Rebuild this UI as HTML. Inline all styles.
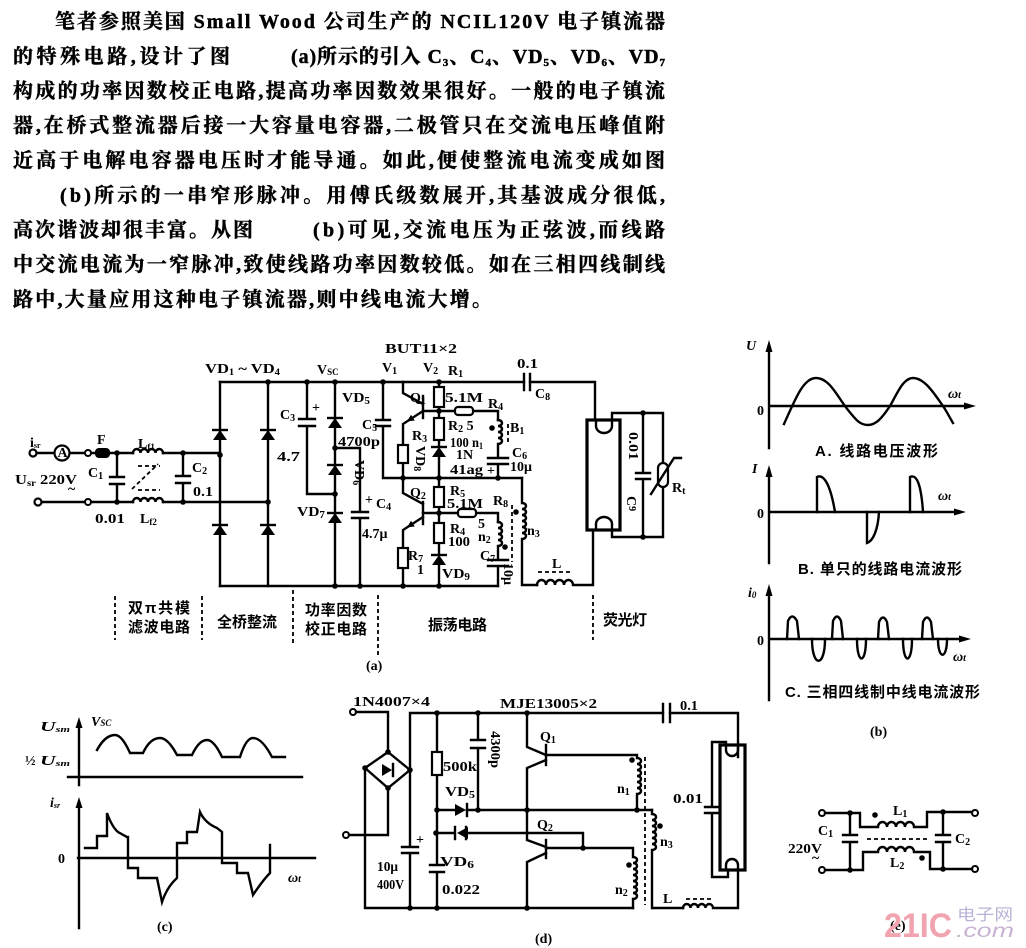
<!DOCTYPE html>
<html><head><meta charset="utf-8">
<style>
html,body{margin:0;padding:0;background:#fff;}
body{width:1026px;height:948px;overflow:hidden;}
svg{display:block;}
.w{fill:none;stroke:#000;stroke-width:2.4;stroke-linecap:square;stroke-linejoin:miter}
.d{fill:none;stroke:#000;stroke-width:1.8;stroke-dasharray:4 3}
.t{font-family:"Liberation Serif","Noto Serif CJK SC",serif;font-weight:bold;font-size:14px;fill:#000}
.cn{font-family:"Liberation Sans","Noto Sans CJK SC",sans-serif;font-weight:bold;font-size:15px;fill:#000}
.bd{font-family:"Liberation Serif","Noto Serif CJK SC",serif;font-weight:bold;font-size:20px;fill:#000;stroke:#000;stroke-width:0.45}
.r{fill:#fff;stroke:#000;stroke-width:2.2}
</style></head>
<body>
<svg width="1026" height="948" viewBox="0 0 1026 948" xmlns="http://www.w3.org/2000/svg">
<defs>
<g id="du"><polygon points="-7,5 7,5 0,-5" fill="#000"/><line x1="-8" y1="-5" x2="8" y2="-5" stroke="#000" stroke-width="2.4"/></g>
<circle id="dt" r="2.8" fill="#000"/>
</defs>

<!-- ===== paragraph ===== -->
<text class="bd" x="55" y="28" textLength="610" lengthAdjust="spacing">笔者参照美国 Small Wood 公司生产的 NCIL120V 电子镇流器</text>
<text class="bd" x="13" y="63" textLength="217" lengthAdjust="spacing">的特殊电路,设计了图</text>
<text class="bd" x="291" y="63" textLength="374" lengthAdjust="spacing">(a)所示的引入 C<tspan font-size="11" dy="3">3</tspan><tspan dy="-3">、C</tspan><tspan font-size="11" dy="3">4</tspan><tspan dy="-3">、VD</tspan><tspan font-size="11" dy="3">5</tspan><tspan dy="-3">、VD</tspan><tspan font-size="11" dy="3">6</tspan><tspan dy="-3">、VD</tspan><tspan font-size="11" dy="3">7</tspan></text>
<text class="bd" x="13" y="97.5" textLength="652" lengthAdjust="spacing">构成的功率因数校正电路,提高功率因数效果很好。一般的电子镇流</text>
<text class="bd" x="13" y="132" textLength="652" lengthAdjust="spacing">器,在桥式整流器后接一大容量电容器,二极管只在交流电压峰值附</text>
<text class="bd" x="13" y="167" textLength="652" lengthAdjust="spacing">近高于电解电容器电压时才能导通。如此,便使整流电流变成如图</text>
<text class="bd" x="60" y="202" textLength="605" lengthAdjust="spacing">(b)所示的一串窄形脉冲。用傅氏级数展开,其基波成分很低,</text>
<text class="bd" x="13" y="236.5" textLength="240" lengthAdjust="spacing">高次谐波却很丰富。从图</text>
<text class="bd" x="313" y="236.5" textLength="352" lengthAdjust="spacing">(b)可见,交流电压为正弦波,而线路</text>
<text class="bd" x="13" y="271" textLength="652" lengthAdjust="spacing">中交流电流为一窄脉冲,致使线路功率因数较低。如在三相四线制线</text>
<text class="bd" x="13" y="306" textLength="479" lengthAdjust="spacing">路中,大量应用这种电子镇流器,则中线电流大增。</text>

<!-- ===== circuit (a) ===== -->
<path class="w" d="M220,382H524M530,382H595V420"/>
<path class="w" d="M524,374V390M530,374V390" stroke-width="2.6"/>
<path class="w" d="M220,586H498"/>
<path class="w" d="M220,382V586M268,382V586"/>
<!-- input -->
<circle cx="33" cy="453" r="3.5" fill="#fff" stroke="#000" stroke-width="2.2"/>
<path class="w" d="M37,453H55M69,453H85M91,453H95M110,453H133M163,453H220"/>
<circle cx="62" cy="453" r="7.5" fill="#fff" stroke="#000" stroke-width="2.2"/>
<text class="t" x="57.5" y="457" font-size="11">A</text>
<circle cx="88" cy="453" r="3" fill="#fff" stroke="#000" stroke-width="2"/>
<rect x="95" y="448" width="15" height="10" rx="4" fill="#000"/>
<path class="w" d="M133,453a3.75,4 0 0 1 7.5,0a3.75,4 0 0 1 7.5,0a3.75,4 0 0 1 7.5,0a3.75,4 0 0 1 7.5,0"/>
<circle cx="38" cy="502" r="3.5" fill="#fff" stroke="#000" stroke-width="2.2"/>
<path class="w" d="M42,502H85M91,502H133M163,502H268"/>
<circle cx="88" cy="502" r="3" fill="#fff" stroke="#000" stroke-width="2"/>
<path class="w" d="M133,502a3.75,4 0 0 1 7.5,0a3.75,4 0 0 1 7.5,0a3.75,4 0 0 1 7.5,0a3.75,4 0 0 1 7.5,0"/>
<path class="d" d="M138,466H160M138,490H160M132,489L158,464"/>
<path class="w" d="M117,453V477M110,477H124M110,484H124M117,484V502"/>
<path class="w" d="M183,453V476M176,476H190M176,483H190M183,483V502"/>
<use href="#dt" x="117" y="453"/><use href="#dt" x="183" y="453"/><use href="#dt" x="220" y="455"/>
<use href="#dt" x="117" y="502"/><use href="#dt" x="183" y="502"/><use href="#dt" x="268" y="502"/>
<use href="#dt" x="268" y="382"/>
<use href="#du" x="220" y="435"/><use href="#du" x="268" y="435"/>
<use href="#du" x="220" y="530"/><use href="#du" x="268" y="530"/>
<!-- PFC -->
<path class="w" d="M307,382V419M299,419H315M299,426H315M307,426V494H335"/>
<path class="w" d="M335,382V586"/>
<use href="#du" x="335" y="423"/><use href="#du" x="335" y="470"/><use href="#du" x="335" y="518"/>
<path class="w" d="M335,448H360V512M352,512H368M352,518H368M360,518V586"/>
<path class="w" d="M383,382V420M376,420H390M376,426H390M383,426V478H522"/>
<use href="#dt" x="307" y="382"/><use href="#dt" x="335" y="382"/><use href="#dt" x="335" y="448"/>
<use href="#dt" x="335" y="494"/><use href="#dt" x="335" y="586"/><use href="#dt" x="360" y="586"/>
<use href="#dt" x="383" y="382"/>
<!-- Q1 -->
<path class="w" d="M403,382V393L423,404"/>
<path class="w" d="M423,396V418" stroke-width="3.2"/>
<path class="w" d="M423,411L403,424V445M403,463V478"/>
<polygon points="407,421.4 414.8,420.5 411,414.7" fill="#000"/>
<rect class="r" x="398" y="445" width="10" height="18"/>
<path class="w" d="M423,411H455M473,411H498V420"/>
<rect class="r" x="455" y="407" width="18" height="8" rx="3"/>
<path class="w" d="M498,420a4,3 0 0 1 0,6a4,3 0 0 1 0,6a4,3 0 0 1 0,6a4,3 0 0 1 0,6V458M488,458H508M488,464H508M498,464V478"/>
<path class="d" d="M508,424V444"/>
<path class="w" d="M439,382V387M439,407V418M439,440V446M439,457V478"/>
<rect class="r" x="434" y="387" width="10" height="20"/>
<rect class="r" x="434" y="418" width="10" height="22"/>
<use href="#du" x="439" y="452"/>
<!-- Q2 -->
<path class="w" d="M403,478V493L423,504"/>
<path class="w" d="M423,502V524" stroke-width="3.2"/>
<path class="w" d="M423,517L403,530V548M403,568V586"/>
<polygon points="407,527.4 414.8,526.5 411,520.7" fill="#000"/>
<rect class="r" x="398" y="548" width="10" height="20"/>
<path class="w" d="M423,513H458M476,513H498V522"/>
<rect class="r" x="458" y="509" width="18" height="8" rx="3"/>
<path class="w" d="M498,522a4,3 0 0 1 0,6a4,3 0 0 1 0,6a4,3 0 0 1 0,6a4,3 0 0 1 0,6V560M488,560H508M488,566H508M498,566V586"/>
<path class="w" d="M439,478V487M439,507V523M439,543V554M439,565V586"/>
<rect class="r" x="434" y="487" width="10" height="20"/>
<rect class="r" x="434" y="523" width="10" height="20"/>
<use href="#du" x="439" y="560"/>
<path class="w" d="M522,478V503a4,3 0 0 1 0,6a4,3 0 0 1 0,6a4,3 0 0 1 0,6a4,3 0 0 1 0,6a4,3 0 0 1 0,6a4,3 0 0 1 0,6V585H537"/>
<path class="w" d="M537,585a4.5,5 0 0 1 9,0a4.5,5 0 0 1 9,0a4.5,5 0 0 1 9,0a4.5,5 0 0 1 9,0H593V530"/>
<path class="d" d="M538,572H573" stroke-dasharray="5 4"/>
<path class="d" d="M512,505V562"/>
<use href="#dt" x="403" y="478"/><use href="#dt" x="439" y="478"/><use href="#dt" x="498" y="478"/>
<use href="#dt" x="439" y="382"/><use href="#dt" x="439" y="411"/><use href="#dt" x="439" y="513"/>
<use href="#dt" x="403" y="586"/><use href="#dt" x="439" y="586"/>
<use href="#dt" x="492" y="428"/><use href="#dt" x="505" y="547"/><use href="#dt" x="516" y="512"/>
<!-- lamp a -->
<rect x="587" y="420" width="33" height="110" fill="none" stroke="#000" stroke-width="3.2"/>
<path class="w" d="M596,420V426a8,7 0 0 0 16,0V420M596,530V524a8,7 0 0 1 16,0V530"/>
<path class="w" d="M612,420V413H663M643,413V473M636,473H650M636,479H650M643,479V537M663,413V463M663,487V537H612V530"/>
<rect class="r" x="658" y="463" width="10" height="24" rx="5"/>
<path class="w" d="M651,494L674,458H681"/>
<use href="#dt" x="643" y="413"/><use href="#dt" x="643" y="537"/>
<!-- dividers -->
<path class="d" d="M115,596V640M202,596V640M293,590V645M378,595V655M593,595V640" stroke-dasharray="6 4"/>
<!-- labels a -->
<text class="t" x="30" y="447">i<tspan font-size="8" dy="1">sr</tspan></text>
<text class="t" x="97" y="444">F</text>
<text class="t" x="138" y="448">L<tspan font-size="9" dy="2">f1</tspan></text>
<text class="t" x="88" y="477">C<tspan font-size="10" dy="2">1</tspan></text>
<text class="t" x="15" y="484" textLength="62" lengthAdjust="spacingAndGlyphs">U<tspan font-size="9" dy="2">sr</tspan><tspan dy="-2"> 220V</tspan></text>
<text class="t" x="68" y="493">~</text>
<text class="t" x="95" y="523" textLength="30" lengthAdjust="spacingAndGlyphs">0.01</text>
<text class="t" x="140" y="523">L<tspan font-size="9" dy="2">f2</tspan></text>
<text class="t" x="192" y="472">C<tspan font-size="10" dy="2">2</tspan></text>
<text class="t" x="193" y="496" textLength="20" lengthAdjust="spacingAndGlyphs">0.1</text>
<text class="t" x="205" y="373" textLength="75" lengthAdjust="spacingAndGlyphs">VD<tspan font-size="9" dy="2">1</tspan><tspan dy="-2"> ~ VD</tspan><tspan font-size="9" dy="2">4</tspan></text>
<text class="t" x="317" y="374">V<tspan font-size="9" dy="1">SC</tspan></text>
<text class="t" x="280" y="419">C<tspan font-size="10" dy="2">3</tspan></text>
<text class="t" x="312" y="412">+</text>
<text class="t" x="277" y="461" textLength="23" lengthAdjust="spacingAndGlyphs">4.7</text>
<text class="t" x="342" y="402" textLength="28" lengthAdjust="spacingAndGlyphs">VD<tspan font-size="10" dy="2">5</tspan></text>
<text class="t" x="362" y="429">C<tspan font-size="10" dy="2">5</tspan></text>
<text class="t" x="338" y="446" textLength="42" lengthAdjust="spacingAndGlyphs">4700p</text>
<text class="t" transform="translate(355,460) rotate(90)">VD<tspan font-size="10" dy="2">6</tspan></text>
<text class="t" x="297" y="516" textLength="28" lengthAdjust="spacingAndGlyphs">VD<tspan font-size="10" dy="2">7</tspan></text>
<text class="t" x="365" y="504">+</text>
<text class="t" x="376" y="508">C<tspan font-size="10" dy="2">4</tspan></text>
<text class="t" x="362" y="538">4.7μ</text>
<text class="t" x="385" y="353" textLength="72" lengthAdjust="spacingAndGlyphs">BUT11×2</text>
<text class="t" x="382" y="372">V<tspan font-size="10" dy="2">1</tspan></text>
<text class="t" x="423" y="372">V<tspan font-size="10" dy="2">2</tspan></text>
<text class="t" x="448" y="375">R<tspan font-size="10" dy="2">1</tspan></text>
<text class="t" x="517" y="368" textLength="21" lengthAdjust="spacingAndGlyphs">0.1</text>
<text class="t" x="535" y="398">C<tspan font-size="10" dy="2">8</tspan></text>
<text class="t" x="410" y="402">Q<tspan font-size="10" dy="2">1</tspan></text>
<text class="t" x="445" y="402" textLength="38" lengthAdjust="spacingAndGlyphs">5.1M</text>
<text class="t" x="488" y="408">R<tspan font-size="10" dy="2">4</tspan></text>
<text class="t" x="448" y="430">R<tspan font-size="10" dy="2">2</tspan><tspan dy="-2"> 5</tspan></text>
<text class="t" x="510" y="432">B<tspan font-size="10" dy="2">1</tspan></text>
<text class="t" x="450" y="447" textLength="33" lengthAdjust="spacingAndGlyphs">100 n<tspan font-size="9" dy="2">1</tspan></text>
<text class="t" x="512" y="457">C<tspan font-size="10" dy="2">6</tspan></text>
<text class="t" x="510" y="471">10μ</text>
<text class="t" x="487" y="475">+</text>
<text class="t" x="412" y="440">R<tspan font-size="10" dy="2">3</tspan></text>
<text class="t" transform="translate(416,446) rotate(90)">VD<tspan font-size="10" dy="2">8</tspan></text>
<text class="t" x="456" y="459">1N</text>
<text class="t" x="450" y="474" textLength="33" lengthAdjust="spacingAndGlyphs">41ag</text>
<text class="t" x="410" y="497">Q<tspan font-size="10" dy="2">2</tspan></text>
<text class="t" x="450" y="495">R<tspan font-size="10" dy="2">5</tspan></text>
<text class="t" x="447" y="508" textLength="36" lengthAdjust="spacingAndGlyphs">5.1M</text>
<text class="t" x="493" y="505">R<tspan font-size="10" dy="2">8</tspan></text>
<text class="t" x="450" y="533">R<tspan font-size="10" dy="2">4</tspan></text>
<text class="t" x="448" y="546" textLength="22" lengthAdjust="spacingAndGlyphs">100</text>
<text class="t" x="478" y="528">5</text>
<text class="t" x="478" y="541">n<tspan font-size="10" dy="2">2</tspan></text>
<text class="t" x="480" y="560">C<tspan font-size="10" dy="2">7</tspan></text>
<text class="t" transform="translate(504,563) rotate(90)">10μ</text>
<text class="t" x="408" y="560">R<tspan font-size="10" dy="2">7</tspan></text>
<text class="t" x="417" y="574">1</text>
<text class="t" x="442" y="578" textLength="28" lengthAdjust="spacingAndGlyphs">VD<tspan font-size="10" dy="2">9</tspan></text>
<text class="t" x="527" y="535">n<tspan font-size="10" dy="2">3</tspan></text>
<text class="t" x="552" y="568">L</text>
<text class="t" transform="translate(629,432) rotate(90)" textLength="28" lengthAdjust="spacingAndGlyphs">0.01</text>
<text class="t" transform="translate(627,496) rotate(90)">C<tspan font-size="10" dy="-2">9</tspan></text>
<text class="t" x="672" y="492">R<tspan font-size="10" dy="2">t</tspan></text>
<text class="cn" x="128" y="613" textLength="62">双π共模</text>
<text class="cn" x="128" y="632" textLength="62">滤波电路</text>
<text class="cn" x="217" y="627" textLength="60">全桥整流</text>
<text class="cn" x="305" y="615" textLength="62">功率因数</text>
<text class="cn" x="305" y="634" textLength="62">校正电路</text>
<text class="cn" x="428" y="630" textLength="59">振荡电路</text>
<text class="cn" x="603" y="625" textLength="44">荧光灯</text>
<text class="t" x="366" y="670" font-size="11">(a)</text>

<!-- ===== waveforms (b) ===== -->
<path class="w" d="M769,448V346M769,406H968"/>
<polygon points="765.5,352 772.5,352 769,340" fill="#000"/>
<polygon points="964,402.5 964,409.5 976,406" fill="#000"/>
<path class="w" d="M784,424C795,400 803,378 816,378C830,378 838,398 848,410C856,420 860,425 868,425C876,425 882,418 890,406C897,394 903,378 913,378C925,378 935,395 943,406C947,412 950,418 953,423" stroke-width="2.6"/>
<text class="t" x="746" y="350" font-style="italic">U</text>
<text class="t" x="757" y="415">0</text>
<text class="t" x="948" y="398" font-style="italic">ω<tspan font-size="10">t</tspan></text>
<text class="cn" x="815" y="456" font-size="13" textLength="123">A. 线路电压波形</text>

<path class="w" d="M769,563V470M769,512H958"/>
<polygon points="765.5,477 772.5,477 769,465" fill="#000"/>
<polygon points="954,508.5 954,515.5 966,512" fill="#000"/>
<path class="w" d="M817,512V477C823,474 830,482 835,512M867,512V543C873,541 878,530 879,512M910,512V477C916,474 921,482 923,512" stroke-width="2.6"/>
<text class="t" x="752" y="473" font-style="italic">I</text>
<text class="t" x="757" y="518">0</text>
<text class="t" x="938" y="500" font-style="italic">ω<tspan font-size="10">t</tspan></text>
<text class="cn" x="798" y="574" font-size="13" textLength="164">B. 单只的线路电流波形</text>

<path class="w" d="M769,700V590M769,639H963"/>
<polygon points="765.5,596 772.5,596 769,584" fill="#000"/>
<polygon points="959,635.5 959,642.5 971,639" fill="#000"/>
<path class="w" d="M787,639L788,621Q792,612 797,621L799,639M832,639L833,621Q837,612 841,621L843,639M878,639L879,622Q883,613 887,622L889,639M922,639L923,622Q927,613 931,622L933,639" stroke-width="2.6"/>
<path class="w" d="M812,639C812,668 825,668 825,639M857,639C857,665 866,665 866,639M903,639C903,665 912,665 912,639M938,639C938,660 947,660 947,639" stroke-width="2.6"/>
<text class="t" x="748" y="597" font-style="italic">i<tspan font-size="9" dy="1">0</tspan></text>
<text class="t" x="757" y="645">0</text>
<text class="t" x="953" y="661" font-style="italic">ω<tspan font-size="10">t</tspan></text>
<text class="cn" x="785" y="697" font-size="13" textLength="195">C. 三相四线制中线电流波形</text>
<text class="t" x="870" y="736" font-size="11">(b)</text>

<!-- ===== (c) ===== -->
<path class="w" d="M79,785V724M68,777H302"/>
<polygon points="75.5,728 82.5,728 79,717" fill="#000"/>
<path class="w" d="M97,750Q105,735 115,735Q122,735 130,753H143Q150,738 160,738Q168,738 177,755H192Q199,740 207,740Q214,740 222,757H240Q246,738 253,738Q262,738 272,757H285" stroke-width="2.6"/>
<text class="t" x="40" y="731" font-style="italic" textLength="30" lengthAdjust="spacingAndGlyphs">U<tspan font-size="8" dy="1">sm</tspan></text>
<text class="t" x="91" y="726" font-style="italic">V<tspan font-size="9">SC</tspan></text>
<text class="t" x="25" y="765" font-size="10">½</text>
<text class="t" x="40" y="765" font-style="italic" textLength="30" lengthAdjust="spacingAndGlyphs">U<tspan font-size="8" dy="1">sm</tspan></text>
<path class="w" d="M79,928V804M78,858H315"/>
<polygon points="75.5,808 82.5,808 79,797" fill="#000"/>
<path class="w" d="M85,848H97V836H107V813Q112,827 118,832L127,837H128V868H138V878H157L162,902Q167,887 177,878V843H187V832H197L200,812Q205,823 217,828L222,832V863H237V873H248L253,895Q263,880 270,873V845" stroke-width="2.6"/>
<text class="t" x="50" y="807" font-style="italic">i<tspan font-size="8" dy="1">sr</tspan></text>
<text class="t" x="58" y="863">0</text>
<text class="t" x="288" y="882" font-style="italic">ω<tspan font-size="10">t</tspan></text>
<text class="t" x="157" y="931" font-size="11">(c)</text>

<!-- ===== (d) ===== -->
<circle cx="353" cy="712" r="3" fill="#fff" stroke="#000" stroke-width="2"/>
<circle cx="346" cy="835" r="3" fill="#fff" stroke="#000" stroke-width="2"/>
<path class="w" d="M356,712H388V752M349,835H388V788"/>
<polygon points="388,752 410,770 388,788 365,768" fill="none" stroke="#000" stroke-width="2.4"/>
<polygon points="382,764 382,776 392,770" fill="#000"/>
<path class="w" d="M393,764V776"/>
<path class="w" d="M365,768V908H633M653,908H683"/>
<path class="w" d="M410,770V713H663M670,713H738V757"/>
<path class="w" d="M663,704V722M670,704V722" stroke-width="2.6"/>
<path class="w" d="M410,770V847M402,847H418M402,853H418M410,853V908"/>
<path class="w" d="M437,713V752M437,775V865M430,865H444M430,872H444M437,872V908"/>
<rect class="r" x="432" y="752" width="10" height="23"/>
<path class="w" d="M478,713V740M471,740H485M471,748H485M478,748V810"/>
<path class="w" d="M437,810H455M467,810H652"/>
<polygon points="455,804 455,816 466,810" fill="#000"/>
<path class="w" d="M467,804V816"/>
<path class="w" d="M436,833H453M468,833H583V848"/>
<polygon points="468,827 468,839 457,833" fill="#000"/>
<path class="w" d="M455,827V839M466,827V839" stroke-width="1.8"/>
<!-- Q1 d -->
<path class="w" d="M527,713V747L546,755"/>
<path class="w" d="M546,745V765" stroke-width="3.2"/>
<path class="w" d="M546,755H637V758a4,3 0 0 1 0,6a4,3 0 0 1 0,6a4,3 0 0 1 0,6a4,3 0 0 1 0,6a4,3 0 0 1 0,6a4,3 0 0 1 0,6V810"/>
<path class="w" d="M546,760L527,768V810"/>
<!-- Q2 d -->
<path class="w" d="M527,810V840L546,847"/>
<path class="w" d="M546,840V858" stroke-width="3.2"/>
<path class="w" d="M546,848H633V857a4,3 0 0 1 0,6a4,3 0 0 1 0,6a4,3 0 0 1 0,6a4,3 0 0 1 0,6a4,3 0 0 1 0,6a4,3 0 0 1 0,6a4,3 0 0 1 0,6V908"/>
<path class="w" d="M546,853L527,862V908"/>
<path class="w" d="M652,810V814a4,3 0 0 1 0,6a4,3 0 0 1 0,6a4,3 0 0 1 0,6a4,3 0 0 1 0,6a4,3 0 0 1 0,6a4,3 0 0 1 0,6V908"/>
<path class="w" d="M683,908a3.75,4 0 0 1 7.5,0a3.75,4 0 0 1 7.5,0a3.75,4 0 0 1 7.5,0a3.75,4 0 0 1 7.5,0H738V870"/>
<path class="d" d="M686,899H712" stroke-dasharray="5 3"/>
<path class="d" d="M645,757V905"/>
<!-- lamp d -->
<rect x="720" y="745" width="25" height="125" fill="none" stroke="#000" stroke-width="3.2"/>
<path class="w" d="M726,745V750a6,6 0 0 0 12,0V745M726,870V865a6,6 0 0 1 12,0V870"/>
<path class="w" d="M726,745V742H712V807M705,807H719M705,813H719M712,813V877H728V870"/>
<use href="#dt" x="388" y="752"/><use href="#dt" x="410" y="770"/><use href="#dt" x="388" y="788"/><use href="#dt" x="365" y="768"/>
<use href="#dt" x="437" y="713"/><use href="#dt" x="478" y="713"/><use href="#dt" x="527" y="713"/>
<use href="#dt" x="437" y="810"/><use href="#dt" x="478" y="810"/><use href="#dt" x="527" y="810"/><use href="#dt" x="637" y="810"/>
<use href="#dt" x="436" y="833"/><use href="#dt" x="583" y="848"/>
<use href="#dt" x="410" y="908"/><use href="#dt" x="437" y="908"/><use href="#dt" x="527" y="908"/>
<use href="#dt" x="632" y="760"/><use href="#dt" x="660" y="826"/><use href="#dt" x="629" y="865"/>
<text class="t" x="353" y="706" textLength="77" lengthAdjust="spacingAndGlyphs">1N4007×4</text>
<text class="t" x="500" y="708" textLength="97" lengthAdjust="spacingAndGlyphs">MJE13005×2</text>
<text class="t" x="680" y="710" textLength="18" lengthAdjust="spacingAndGlyphs">0.1</text>
<text class="t" x="540" y="741">Q<tspan font-size="10" dy="2">1</tspan></text>
<text class="t" x="443" y="771" textLength="34" lengthAdjust="spacingAndGlyphs">500k</text>
<text class="t" transform="translate(491,731) rotate(90)" textLength="37" lengthAdjust="spacingAndGlyphs">4300p</text>
<text class="t" x="445" y="796" textLength="30" lengthAdjust="spacingAndGlyphs">VD<tspan font-size="10" dy="2">5</tspan></text>
<text class="t" x="440" y="866" textLength="34" lengthAdjust="spacingAndGlyphs">VD<tspan font-size="10" dy="2">6</tspan></text>
<text class="t" x="537" y="829">Q<tspan font-size="10" dy="2">2</tspan></text>
<text class="t" x="617" y="793">n<tspan font-size="10" dy="2">1</tspan></text>
<text class="t" x="660" y="846">n<tspan font-size="10" dy="2">3</tspan></text>
<text class="t" x="615" y="894">n<tspan font-size="10" dy="2">2</tspan></text>
<text class="t" x="673" y="803" textLength="30" lengthAdjust="spacingAndGlyphs">0.01</text>
<text class="t" x="377" y="871" textLength="21" lengthAdjust="spacingAndGlyphs">10μ</text>
<text class="t" x="377" y="889" textLength="27" lengthAdjust="spacingAndGlyphs">400V</text>
<text class="t" x="416" y="844">+</text>
<text class="t" x="442" y="894" textLength="38" lengthAdjust="spacingAndGlyphs">0.022</text>
<text class="t" x="663" y="903">L</text>
<text class="t" x="535" y="943" font-size="11">(d)</text>

<!-- ===== (e) ===== -->
<circle cx="822" cy="813" r="3" fill="#fff" stroke="#000" stroke-width="2"/>
<circle cx="822" cy="870" r="3" fill="#fff" stroke="#000" stroke-width="2"/>
<circle cx="975" cy="813" r="3" fill="#fff" stroke="#000" stroke-width="2"/>
<circle cx="975" cy="869" r="3" fill="#fff" stroke="#000" stroke-width="2"/>
<path class="w" d="M825,813H860V827H878a4.5,5 0 0 1 9,0a4.5,5 0 0 1 9,0a4.5,5 0 0 1 9,0a4.5,5 0 0 1 9,0H927V812H972"/>
<path class="w" d="M825,870H863V852H878a4.5,5 0 0 1 9,0a4.5,5 0 0 1 9,0a4.5,5 0 0 1 9,0a4.5,5 0 0 1 9,0H930V869H972"/>
<path class="w" d="M850,813V835M843,835H857M843,842H857M850,842V870"/>
<path class="w" d="M943,812V835M936,835H950M936,842H950M943,842V869"/>
<path class="d" d="M867,839H930" stroke-dasharray="5 4"/>
<use href="#dt" x="850" y="813"/><use href="#dt" x="850" y="870"/><use href="#dt" x="943" y="812"/><use href="#dt" x="943" y="869"/>
<use href="#dt" x="875" y="815"/><use href="#dt" x="922" y="858"/>
<text class="t" x="818" y="835">C<tspan font-size="10" dy="2">1</tspan></text>
<text class="t" x="788" y="853" textLength="34" lengthAdjust="spacingAndGlyphs">220V</text>
<text class="t" x="812" y="862">~</text>
<text class="t" x="893" y="815">L<tspan font-size="10" dy="2">1</tspan></text>
<text class="t" x="890" y="867">L<tspan font-size="10" dy="2">2</tspan></text>
<text class="t" x="955" y="843">C<tspan font-size="10" dy="2">2</tspan></text>
<text class="t" x="890" y="930" font-size="11">(e)</text>
<!-- watermark -->
<text x="884" y="937" font-family="Liberation Sans, sans-serif" font-weight="bold" font-size="34" fill="#f2a3b0" textLength="68" lengthAdjust="spacingAndGlyphs">21IC</text>
<text x="957" y="920" font-family="Liberation Sans, Noto Sans CJK SC, sans-serif" font-size="16" fill="#b9b3d6" textLength="56" lengthAdjust="spacingAndGlyphs">电子网</text>
<text x="956" y="937" font-family="Liberation Sans, sans-serif" font-style="italic" font-size="19" fill="#c9b3d3" textLength="58" lengthAdjust="spacingAndGlyphs">.com</text>
</svg>
</body></html>
